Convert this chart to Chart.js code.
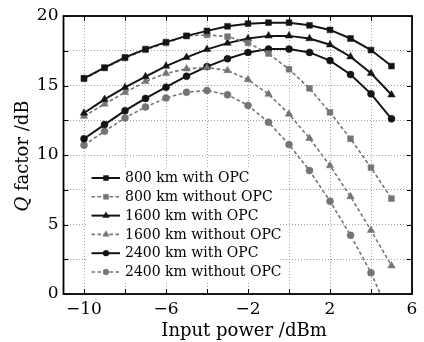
<!DOCTYPE html>
<html>
<head>
<meta charset="utf-8">
<script src="https://cdn.jsdelivr.net/npm/chart.js@4.4.1/dist/chart.umd.min.js"></script>
<style>
  html, body { margin: 0; padding: 0; background: #fff; }
  #wrap { width: 424px; height: 342px; }
</style>
</head>
<body>
<div id="wrap"><canvas id="qChart" width="424" height="342"></canvas></div>
<script>
// launch power sweep, dBm
const inputPower = [-10, -9, -8, -7, -6, -5, -4, -3, -2, -1, 0, 1, 2, 3, 4, 5];

// Q factor (dB) per transmission distance
const q800With     = [15.52, 16.29, 17.02, 17.62, 18.12, 18.57, 18.93, 19.26, 19.45, 19.52, 19.52, 19.33, 19.00, 18.38, 17.55, 16.40];
const q800Without  = [15.48, 16.25, 16.98, 17.57, 18.06, 18.57, 18.64, 18.52, 18.07, 17.30, 16.17, 14.79, 13.07, 11.17, 9.09, 6.86];
const q1600With    = [13.02, 14.00, 14.86, 15.64, 16.40, 17.02, 17.60, 18.05, 18.38, 18.57, 18.57, 18.38, 17.93, 17.07, 15.88, 14.33];
const q1600Without = [12.79, 13.67, 14.50, 15.29, 15.87, 16.20, 16.30, 16.08, 15.42, 14.38, 12.95, 11.20, 9.23, 7.01, 4.58, 2.03];
const q2400With    = [11.17, 12.19, 13.19, 14.07, 14.88, 15.67, 16.36, 16.93, 17.38, 17.62, 17.62, 17.38, 16.79, 15.79, 14.40, 12.60];
const q2400Without = [10.71, 11.71, 12.67, 13.45, 14.10, 14.52, 14.64, 14.33, 13.57, 12.36, 10.75, 8.88, 6.68, 4.23, 1.52, -1.8];

const seriesLabels = ['800 km with OPC', '800 km without OPC', '1600 km with OPC',
                      '1600 km without OPC', '2400 km with OPC', '2400 km without OPC'];

// axis ticks
const xGrid = [-10, -8, -6, -4, -2, 0, 2, 4, 6];
const xLabels = [-10, -6, -2, 2, 6];
const yGrid = [0, 2.5, 5, 7.5, 10, 12.5, 15, 17.5, 20];
const yLabels = [0, 5, 10, 15, 20];

const FONT = 'DejaVu Serif';
const DARK = '#141414';
const GREY = '#747474';

function pts(vals) {
  return vals.map((v, i) => ({ x: inputPower[i], y: v }));
}

function series(label, vals, shape, solid) {
  const size = { rect: 4.1, triangle: 4.3, circle: 3.5 }[shape];
  return {
    label: label,
    data: pts(vals),
    borderColor: solid ? DARK : GREY,
    backgroundColor: solid ? DARK : GREY,
    borderWidth: solid ? 2 : 1.6,
    borderDash: solid ? [] : [3.5, 2.5],
    pointStyle: shape,
    pointRadius: size,
    pointBorderWidth: 0.5,
    pointBackgroundColor: solid ? DARK : GREY,
    pointBorderColor: solid ? DARK : GREY,
    tension: 0
  };
}

const datasets = [
  series(seriesLabels[0], q800With, 'rect', true),
  series(seriesLabels[1], q800Without, 'rect', false),
  series(seriesLabels[2], q1600With, 'triangle', true),
  series(seriesLabels[3], q1600Without, 'triangle', false),
  series(seriesLabels[4], q2400With, 'circle', true),
  series(seriesLabels[5], q2400Without, 'circle', false)
];

function fmt(v) {
  return v < 0 ? '\u2212' + Math.abs(v) : String(v);
}

// frame, inward ticks, legend and axis titles
const decor = {
  id: 'decor',
  afterDatasetsDraw(chart) {
    const { ctx, chartArea: a, scales: { x, y } } = chart;
    ctx.save();

    // legend
    ctx.fillStyle = '#fff';
    ctx.fillRect(86, 167, 194, 116);
    chart.data.datasets.forEach((ds, i) => {
      const ry = 178 + i * 18.8;
      ctx.strokeStyle = ds.borderColor;
      ctx.lineWidth = ds.borderWidth;
      ctx.setLineDash(ds.borderDash);
      ctx.beginPath();
      ctx.moveTo(91.5, ry);
      ctx.lineTo(120, ry);
      ctx.stroke();
      ctx.setLineDash([]);
      ctx.fillStyle = ds.pointBackgroundColor;
      ctx.strokeStyle = ds.pointBorderColor;
      ctx.lineWidth = 0.5;
      Chart.helpers.drawPoint(ctx, {
        pointStyle: ds.pointStyle,
        radius: ds.pointRadius - 0.6,
        rotation: 0,
        borderWidth: 0.5
      }, 106, ry);
      ctx.fillStyle = '#000';
      ctx.font = '14px "' + FONT + '"';
      ctx.textBaseline = 'middle';
      ctx.textAlign = 'left';
      ctx.fillText(ds.label, 125, ry + 0.5);
    });

    // inward tick marks on all four sides
    ctx.strokeStyle = '#000';
    ctx.lineWidth = 1;
    ctx.beginPath();
    xGrid.forEach(v => {
      const px = Math.round(x.getPixelForValue(v)) + 0.5;
      ctx.moveTo(px, a.bottom); ctx.lineTo(px, a.bottom - 5);
      ctx.moveTo(px, a.top); ctx.lineTo(px, a.top + 5);
    });
    yGrid.forEach(v => {
      const py = Math.round(y.getPixelForValue(v)) + 0.5;
      ctx.moveTo(a.left, py); ctx.lineTo(a.left + 5, py);
      ctx.moveTo(a.right, py); ctx.lineTo(a.right - 5, py);
    });
    ctx.stroke();

    ctx.lineWidth = 1.8;
    ctx.strokeRect(a.left, a.top, a.right - a.left, a.bottom - a.top);

    // axis titles
    ctx.fillStyle = '#000';
    ctx.textBaseline = 'middle';
    ctx.textAlign = 'center';
    ctx.font = '18px "' + FONT + '"';
    ctx.fillText('Input power /dBm', 244, 331);

    ctx.translate(23, (a.top + a.bottom) / 2 + 1);
    ctx.rotate(-Math.PI / 2);
    const qPart = 'Q';
    const rest = ' factor /dB';
    ctx.font = 'italic 18px "' + FONT + '"';
    const wq = ctx.measureText(qPart).width;
    ctx.font = '18px "' + FONT + '"';
    const wr = ctx.measureText(rest).width;
    const start = -(wq + wr) / 2;
    ctx.textAlign = 'left';
    ctx.font = 'italic 18px "' + FONT + '"';
    ctx.fillText(qPart, start, 0);
    ctx.font = '18px "' + FONT + '"';
    ctx.fillText(rest, start + wq, 0);

    ctx.restore();
  }
};

const ctx = document.getElementById('qChart').getContext('2d');
const qChart = new Chart(ctx, {
  type: 'line',
  data: { datasets: datasets },
  options: {
    responsive: false,
    animation: false,
    layout: { padding: { top: 16, right: 12, left: 0, bottom: 0 } },
    plugins: { legend: { display: false }, tooltip: { enabled: false } },
    scales: {
      x: {
        type: 'linear',
        min: -11,
        max: 6,
        afterBuildTicks: s => { s.ticks = xGrid.map(v => ({ value: v })); },
        afterFit: s => { s.height = 48; },
        grid: { color: '#a0a0a0', lineWidth: 1, drawTicks: false },
        border: { display: false, dash: [1, 2] },
        ticks: {
          autoSkip: false,
          maxRotation: 0,
          padding: 5,
          color: '#000',
          font: { family: FONT, size: 17 },
          callback: v => xLabels.includes(v) ? fmt(v) : ''
        }
      },
      y: {
        min: 0,
        max: 20,
        afterBuildTicks: s => { s.ticks = yGrid.map(v => ({ value: v })); },
        afterFit: s => { s.width = 63.5; },
        grid: { color: '#a0a0a0', lineWidth: 1, drawTicks: false },
        border: { display: false, dash: [1, 2] },
        ticks: {
          autoSkip: false,
          padding: 5,
          color: '#000',
          font: { family: FONT, size: 17 },
          callback: v => yLabels.includes(v) ? fmt(v) : ''
        }
      }
    }
  },
  plugins: [decor]
});
</script>
</body>
</html>
